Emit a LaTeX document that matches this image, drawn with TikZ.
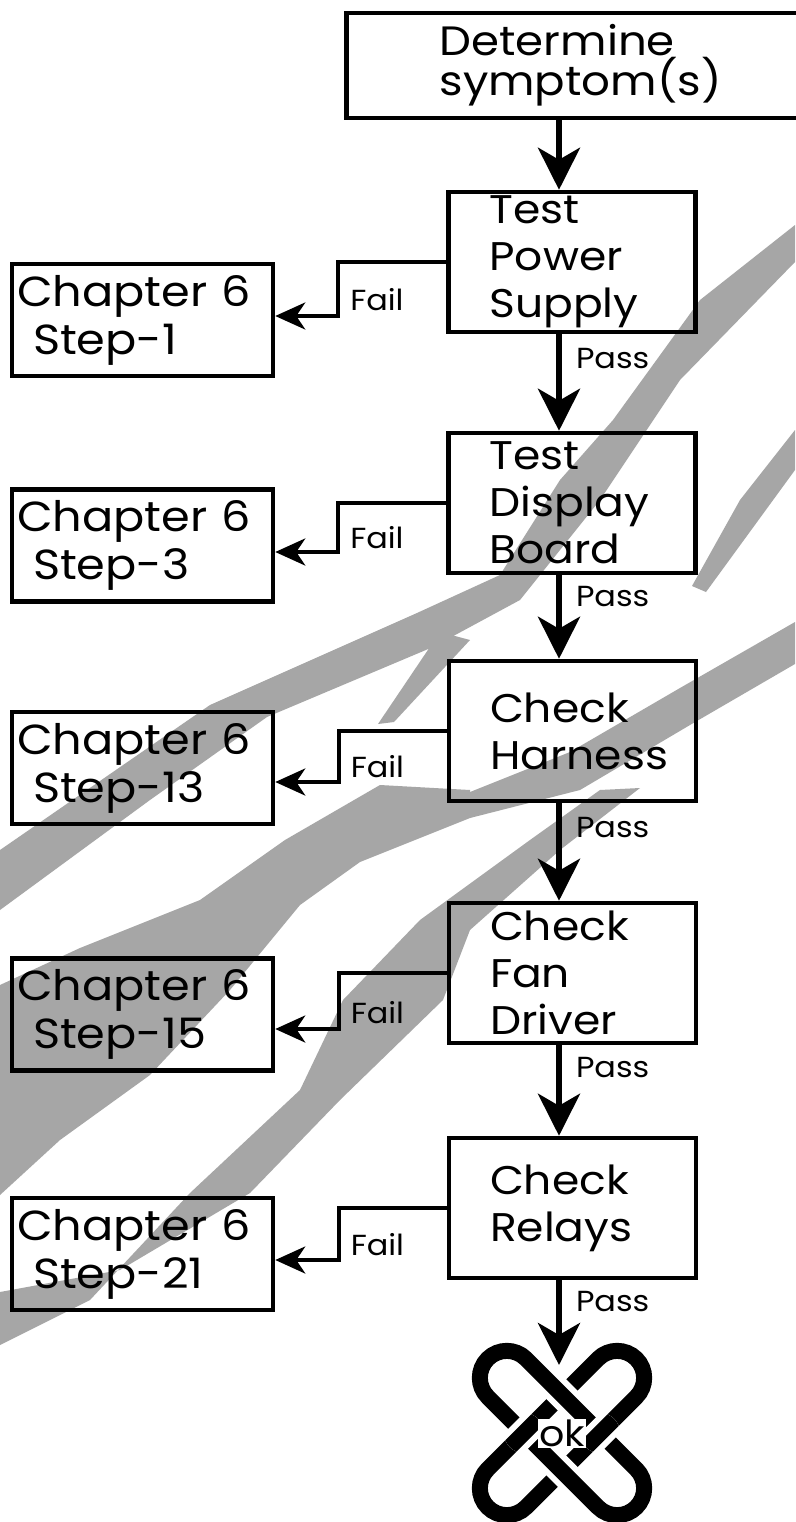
\documentclass[tikz,border=0pt]{standalone}
\usepackage{fontspec}
\setmainfont{Poppins}[FakeStretch=1.1]
\usetikzlibrary{arrows.meta, positioning, calc}
\hyphenpenalty=10000

\begin{document}
\begin{tikzpicture}[x=1pt, y=-1pt,
    stepbox/.style={rectangle, draw, line width=4.5pt, minimum width=247pt, minimum height=140pt,
        text width=165pt, inner xsep=41pt, inner ysep=0pt, align=left, font=\fontsize{40}{47}\selectfont},
    chapbox/.style={rectangle, draw, line width=4.5pt, minimum width=261pt, minimum height=112pt,
        text width=251pt, inner xsep=5pt, inner ysep=0pt, align=left, font=\fontsize{42}{48}\selectfont},
    passarrow/.style={line width=6pt, -{Stealth[length=42pt, width=42pt, inset=12pt]}},
    failarrow/.style={line width=4pt, -{Stealth[length=30pt, width=27pt, inset=9pt]}},
    lbl/.style={font=\fontsize{29}{29}\selectfont, inner sep=0pt},
    streak/.style={fill=black!35, draw=none},
    loopband/.style={line width=16pt, rounded corners=27pt}]

    % page
    \fill[white] (0,0) rectangle (795,1522);
    \useasboundingbox (0,0) rectangle (795,1522);

    % grey streaks behind the chart
    \fill[streak] (795,225) -- (700,300) -- (613,420) -- (560,480) -- (500,575) -- (417,613) -- (210,705) -- (0,850)
        -- (0,910) -- (150,800) -- (267,717) -- (433,647) -- (520,600) -- (600,500) -- (680,380) -- (795,262) -- cycle;
    \fill[streak] (440,632) -- (378,724) -- (394,722) -- (470,640) -- cycle;
    \fill[streak] (795,430) -- (795,470) -- (706,592) -- (692,586) -- (740,500) -- cycle;
    \fill[streak] (795,622) -- (795,664) -- (690,725) -- (580,790) -- (470,818) -- (470,792) -- (570,752) -- (680,688) -- cycle;
    \fill[streak] (470,790) -- (380,785) -- (285,840) -- (200,900) -- (80,948) -- (0,985) -- (0,1195) -- (60,1140)
        -- (150,1075) -- (230,990) -- (300,905) -- (360,862) -- (470,818) -- cycle;
    \fill[streak] (640,788) -- (560,850) -- (470,930) -- (443,1000) -- (340,1100) -- (250,1193) -- (120,1270) -- (0,1292)
        -- (0,1345) -- (90,1300) -- (190,1193) -- (300,1090) -- (343,1000) -- (420,920) -- (530,840) -- (600,790) -- cycle;

    % main column
    \coordinate (col) at (559,0);
    \node[stepbox, minimum width=483pt, text width=297pt, inner xsep=93pt, minimum height=105pt,
        font=\fontsize{41}{37}\selectfont] (det) at (588,65.5) {Determine\\symptom(s)};
    \node[stepbox] (tps) at (572,262) {Test\\Power\\Supply};
    \node[stepbox] (tdb) at (572,503) {Test\\Display\\Board};
    \node[stepbox] (chh) at (572.5,731) {Check\\Harness};
    \node[stepbox] (cfd) at (572.5,973) {Check\\Fan\\Driver};
    \node[stepbox] (crl) at (572.5,1208) {Check\\Relays};

    % chapter 6 references
    \node[chapbox] (ch1) at (142.5,320) {Chapter 6\\\hspace*{16pt}Step-1};
    \node[chapbox] (ch3) at (142.5,545.5) {Chapter 6\\\hspace*{16pt}Step-3};
    \node[chapbox] (ch13) at (142.5,768) {Chapter 6\\\hspace*{16pt}Step-13};
    \node[chapbox] (ch15) at (142.5,1014.5) {Chapter 6\\\hspace*{16pt}Step-15};
    \node[chapbox] (ch21) at (142.5,1254) {Chapter 6\\\hspace*{16pt}Step-21};

    % pass arrows
    \draw[passarrow] (det.south -| col) -- (tps.north -| col);
    \draw[passarrow] (tps.south -| col) -- node[lbl, pos=0.25, right=14pt] {Pass} (tdb.north -| col);
    \draw[passarrow] (tdb.south -| col) -- node[lbl, pos=0.25, right=14pt] {Pass} (chh.north -| col);
    \draw[passarrow] (chh.south -| col) -- node[lbl, pos=0.25, right=14pt] {Pass} (cfd.north -| col);
    \draw[passarrow] (cfd.south -| col) -- node[lbl, pos=0.25, right=14pt] {Pass} (crl.north -| col);

    % fail arrows
    \draw[failarrow] (tps.west) -- ++(-108,0) |- node[lbl, pos=0.35, right=10pt] {Fail} ([yshift=4pt]ch1.east);
    \draw[failarrow] (tdb.west) -- ++(-108,0) |- node[lbl, pos=0.35, right=10pt] {Fail} ([yshift=-6.5pt]ch3.east);
    \draw[failarrow] (chh.west) -- ++(-108,0) |- node[lbl, pos=0.35, right=10pt] {Fail} ([yshift=-14pt]ch13.east);
    \draw[failarrow] (cfd.west) -- ++(-108,0) |- node[lbl, pos=0.35, right=10pt] {Fail} ([yshift=-14.5pt]ch15.east);
    \draw[failarrow] (crl.west) -- ++(-108,0) |- node[lbl, pos=0.35, right=10pt] {Fail} ([yshift=-6pt]ch21.east);

    % ok knot
    \coordinate (okc) at (562,1433);
    \coordinate (oktip) at (559,1365);
    \begin{scope}[shift={(okc)}, rotate=45]
        \draw[loopband] (-105,-27) rectangle (105,27);
    \end{scope}
    \begin{scope}[shift={(okc)}, rotate=-45]
        \draw[loopband, white, line width=28pt] (-105,-27) rectangle (105,27);
        \draw[loopband] (-105,-27) rectangle (105,27);
    \end{scope}
    \foreach \sx in {-38,38} {
        \begin{scope}
            \clip ($(okc)+(\sx,0)$) circle (20pt);
            \begin{scope}[shift={(okc)}, rotate=45]
                \draw[loopband, white, line width=28pt] (-105,-27) rectangle (105,27);
                \draw[loopband] (-105,-27) rectangle (105,27);
            \end{scope}
        \end{scope}
    }
    \node[font=\fontsize{36}{36}\selectfont, fill=white, inner sep=1pt] (okmark) at (okc) {ok};
    \draw[passarrow] (crl.south -| col) -- node[lbl, pos=0.25, right=14pt] {Pass} (oktip);
\end{tikzpicture}
\end{document}
